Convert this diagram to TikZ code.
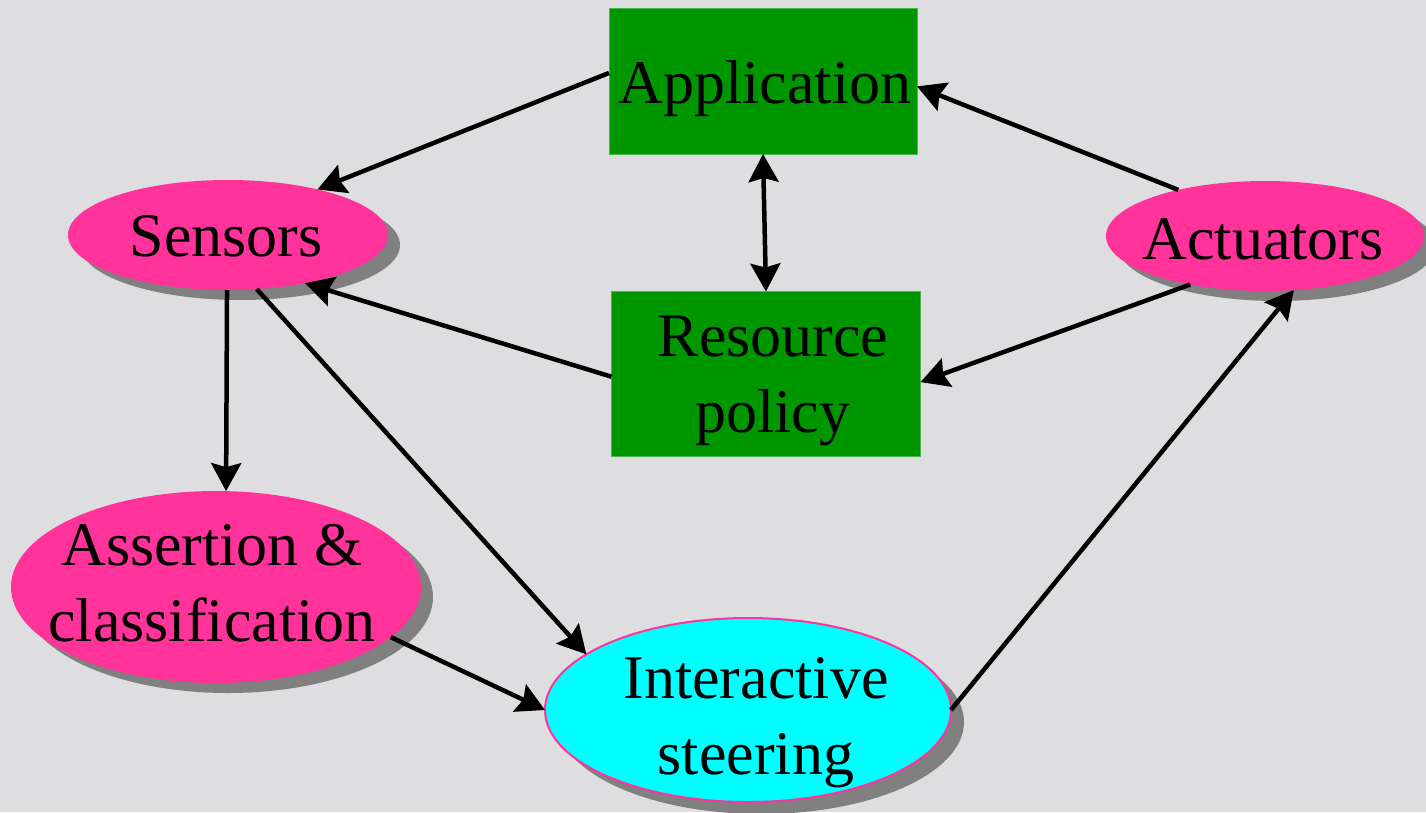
\documentclass[tikz,border=0pt]{standalone}
\usepackage{fontspec}
\setmainfont{Liberation Serif}
\usetikzlibrary{shapes.geometric,arrows.meta,shadows}
\definecolor{marble}{RGB}{222,222,225}
\definecolor{boxgreen}{RGB}{0,150,0}
\definecolor{hotpink}{RGB}{255,51,153}
\definecolor{aqua}{RGB}{0,255,255}
\definecolor{shade}{RGB}{128,128,128}

\begin{document}
\begin{tikzpicture}[x=1pt,y=-1pt,
  every node/.style={inner sep=0pt, outer sep=0pt},
  tip/.tip={Stealth[length=28pt,width=30pt,inset=4pt]},
  box/.style={rectangle, fill=boxgreen, draw=boxgreen!70!white, line width=0.8pt},
  oval/.style={ellipse, fill=hotpink,
    drop shadow={shadow xshift=12pt, shadow yshift=-10pt, fill=shade, opacity=1}},
  steer/.style={ellipse, fill=aqua, draw=hotpink, line width=2pt,
    drop shadow={shadow xshift=13pt, shadow yshift=-12pt, fill=shade, opacity=1}},
  txt/.style={font=\rmfamily\fontsize{62}{76}\selectfont, align=center, text=black},
  link/.style={line width=4.5pt, -tip},
  twoway/.style={line width=4.5pt, tip-tip},
]
% page and marble-grey backdrop
\useasboundingbox (0,0) rectangle (1426,812);
\fill[marble] (0,0) rectangle (1426,812);

% shapes
\node[box, minimum width=308pt, minimum height=146pt] (app) at (763,81) {};
\node[box, minimum width=309pt, minimum height=165pt] (res) at (766,374) {};
\node[oval, minimum width=320pt, minimum height=110pt] (sens) at (228,235) {};
\node[oval, minimum width=318pt, minimum height=110pt] (act) at (1265,236) {};
\node[oval, minimum width=410pt, minimum height=192pt] (ass) at (216,587) {};
\node[steer, minimum width=406pt, minimum height=184pt] (int) at (748,710) {};

% labels
\node[txt] (app-t) at (765,89) {Application};
\node[txt] (res-t) at (773,381) {Resource\\policy};
\node[txt] (sens-t) at (226,236) {Sensors};
\node[txt] (act-t) at (1263,239) {Actuators};
\node[txt] (ass-t) at (212,583) {Assertion \&\\classification};
\node[txt] (int-t) at (756,723) {Interactive\\steering};

% connectors
\draw[link] (app.177.7) -- (sens.27);
\draw[link] (act.152) -- (app.-2.6);
\draw[twoway] (app.south) -- (res.north);
\draw[link] (res.181.5) -- (sens.-32);
\draw[link] (act.213.5) -- (res.-3.5);
\draw[link] (sens.269) -- (ass.84);
\draw[link] (sens.-62) -- (int.161.8);
\draw[link] (ass.-16) -- (int.west);
\draw[link] (int.east) -- (act.-62);
\end{tikzpicture}
\end{document}
